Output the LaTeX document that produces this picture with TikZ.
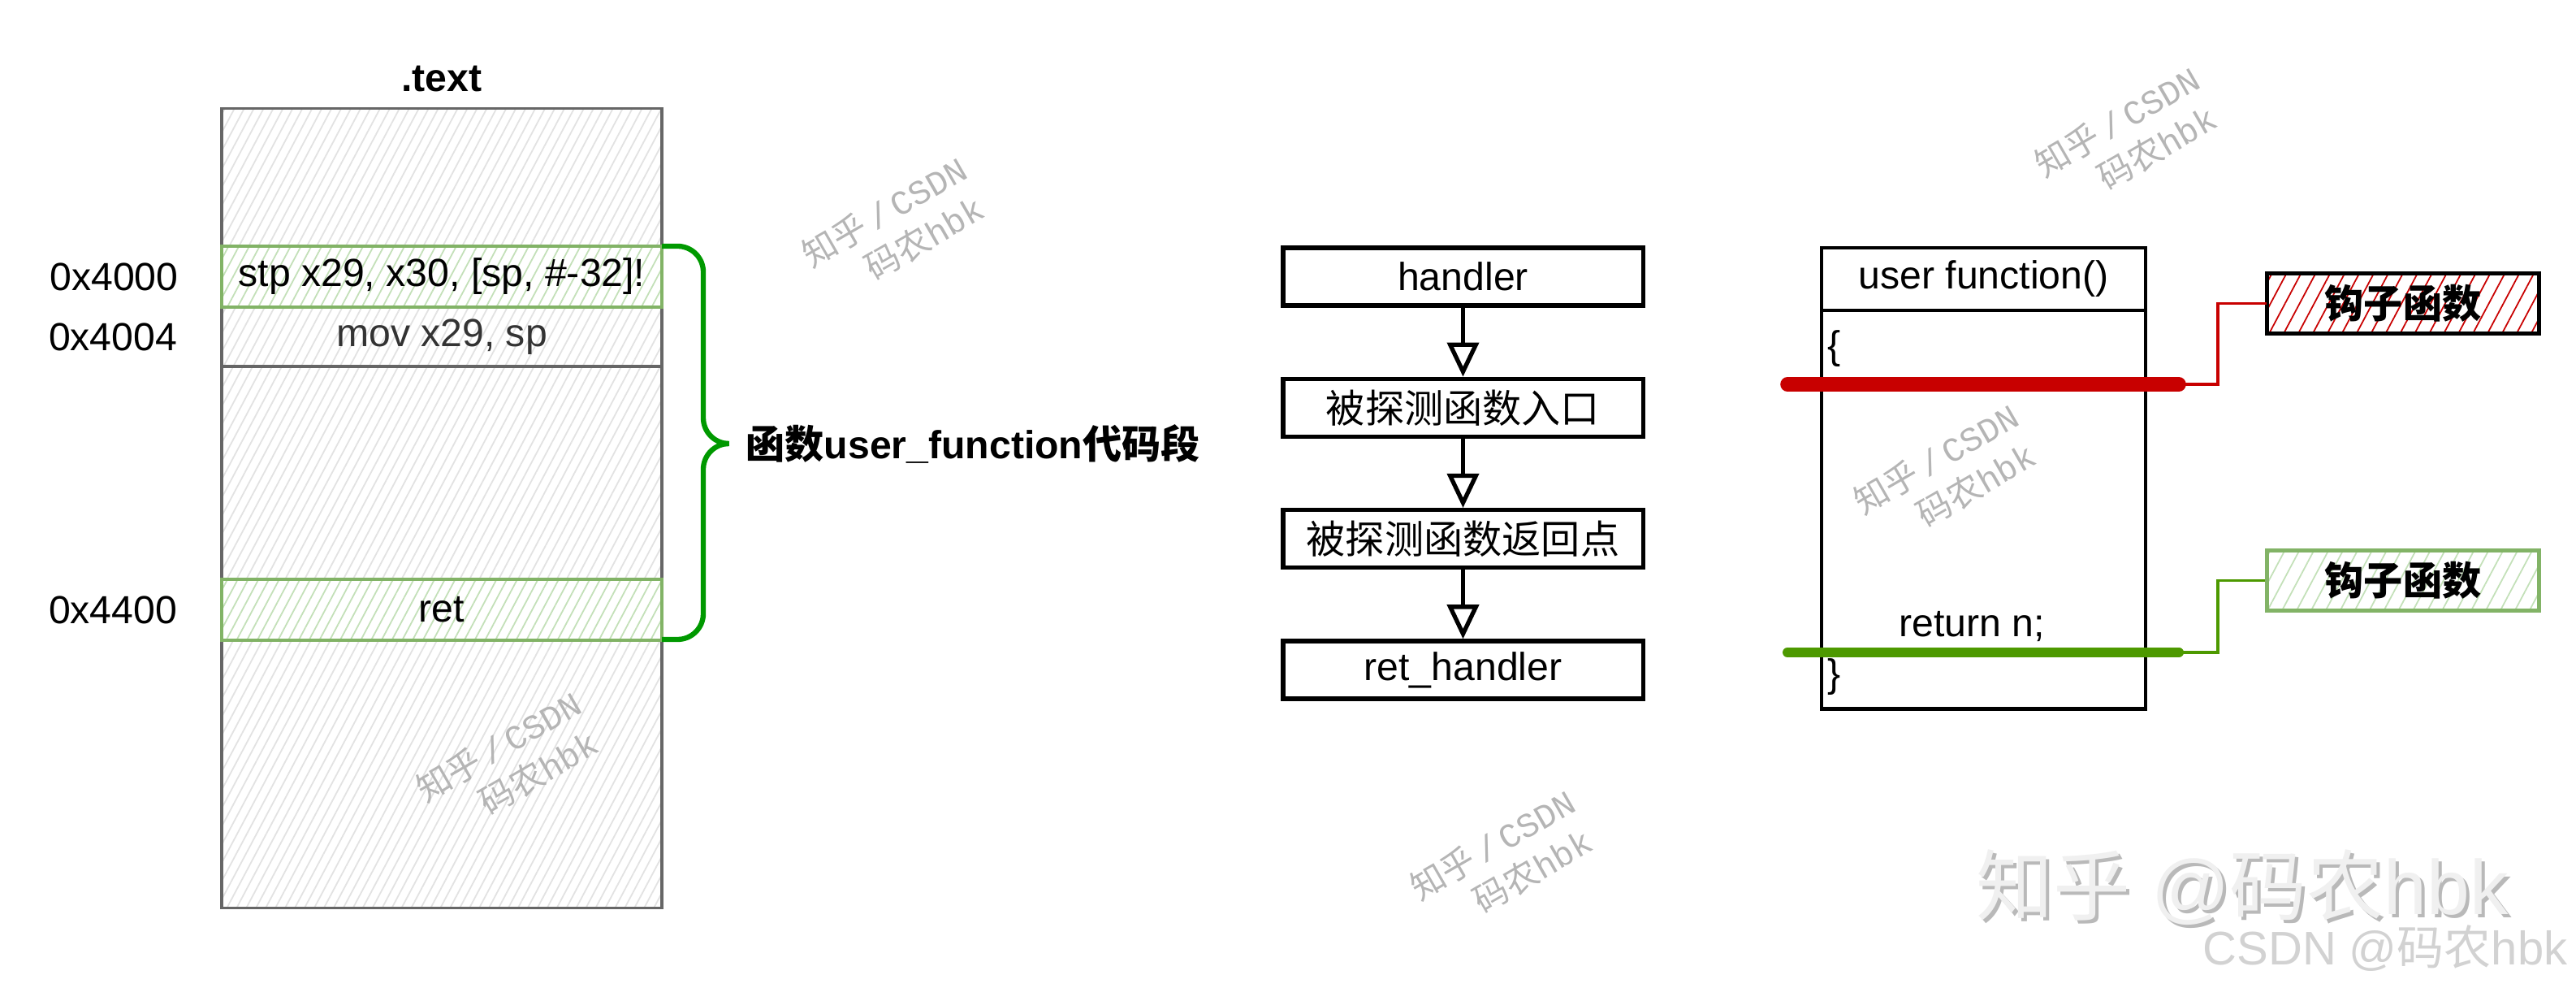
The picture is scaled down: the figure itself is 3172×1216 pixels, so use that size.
\documentclass[tikz,border=0pt]{standalone}
\usepackage{fontspec}
\setmainfont{Liberation Sans}
\newfontfamily\cjk{Noto Sans CJK SC}
\newfontfamily\wmmono{Liberation Mono}
\usetikzlibrary{positioning,arrows.meta,patterns.meta}

\definecolor{segborder}{HTML}{666666}
\definecolor{seghatch}{HTML}{E2E2E2}
\definecolor{greenborder}{HTML}{82B366}
\definecolor{greenhatch}{HTML}{C3E0B8}
\definecolor{bracegreen}{HTML}{009900}
\definecolor{hookred}{HTML}{C80000}
\definecolor{hookgreen}{HTML}{4D9900}
\definecolor{wmgray}{HTML}{B5B5B5}

\newcommand\diagfont{\fontsize{13.7}{16}\selectfont}
\newcommand\wmark[2]{\node[wm] (#1) at (#2) {{\cjk 知乎}\,{\wmmono/\,CSDN}\\\hspace*{1.4em}{\cjk 码农}{\wmmono hbk}};}

\tikzset{
  hatch/.style 2 args={pattern={Lines[angle=62,distance=#1,line width=0.5pt]},pattern color=#2},
  segbox/.style={draw=segborder,line width=1pt,preaction={fill=white},hatch={3pt}{seghatch}},
  greenrow/.style={draw=greenborder,line width=1.3pt,preaction={fill=white},hatch={3.2pt}{greenhatch},
    minimum width=5.42cm,minimum height=0.75cm,inner sep=0pt},
  grayrow/.style={draw=segborder,line width=1.3pt,preaction={fill=white},hatch={3pt}{seghatch},
    minimum width=5.42cm,minimum height=0.73cm,inner sep=0pt,text=black!80},
  flowbox/.style={draw,line width=1.5pt,minimum width=4.43cm,minimum height=0.71cm,inner sep=0pt},
  flowarrow/.style={line width=1.5pt,-{Triangle[open,length=12pt,width=11pt]}},
  ufbox/.style={draw,line width=1.3pt,minimum width=3.99cm,inner sep=0pt,outer sep=0pt},
  hookbox/.style={line width=1.4pt,minimum width=3.34cm,minimum height=0.74cm,inner sep=0pt,
    font=\diagfont\cjk\bfseries},
  probeline/.style={line cap=round,line width=#1},
  tap/.style={line width=0.9pt},
  wm/.style={text=wmgray,rotate=30,font=\fontsize{12}{15}\selectfont,align=left}
}

\begin{document}
\begin{tikzpicture}[x=0.01cm,y=-0.01cm,font=\diagfont]
\useasboundingbox (0,0) rectangle (3172,1216);

%====================================================
% .text segment
%====================================================
\node[segbox,minimum width=5.42cm,minimum height=9.83cm] (seg) at (544,625.5) {};
\node[font=\diagfont\bfseries] (segtitle) at (544,97) {.text};

\node[grayrow] (mov) at (544,414.5) {mov x29, sp};
\node[greenrow] (stp) at (544,340.5) {stp x29, x30, [sp, \#-32]!};
\node[greenrow] (ret) at (544,750.5) {ret};

% Addresses
\node[left=0.4cm of stp] (a4000) {0x4000};
\node[left=0.4cm of mov] (a4004) {0x4004};
\node[left=0.4cm of ret] (a4400) {0x4400};

% Brace
\draw[bracegreen,line width=1.8pt,rounded corners=9] (815,303) -| (866,546) -- (890,546);
\draw[bracegreen,line width=1.8pt,rounded corners=9] (890,546) -- (866,546) |- (815,787);
\node[anchor=west,font=\diagfont\bfseries] (seglabel) at (906,546) {{\cjk 函数}user\_function{\cjk 代码段}};

%====================================================
% Probe flow
%====================================================
\node[flowbox] (handler) at (1801.5,340.5) {handler};
\node[flowbox,below=0.85cm of handler] (entry) {\cjk 被探测函数入口};
\node[flowbox,below=0.85cm of entry] (retpoint) {\cjk 被探测函数返回点};
\node[flowbox,below=0.85cm of retpoint] (rethandler) {ret\_handler};

\draw[flowarrow] (handler) -- (entry);
\draw[flowarrow] (entry) -- (retpoint);
\draw[flowarrow] (retpoint) -- (rethandler);

%====================================================
% user function
%====================================================
\node[ufbox,minimum height=0.77cm] (ufhead) at (2442.5,343.5) {user function()};
\node[ufbox,minimum height=4.9cm,below=0pt of ufhead] (ufbody) {};
\node[anchor=west,inner sep=1pt] (lbrace) at (2246,429) {\{};
\node[anchor=west,inner sep=1pt] (rbrace) at (2246,833) {\}};
\node (retn) at (2428,771) {return n;};

% Entry hook
\coordinate (entrytap) at (2683,473);
\draw[probeline=5pt,hookred] (2201,473) -- (entrytap);
\node[hookbox,draw=black,hatch={4.5pt}{hookred}] (hookentry) at (2959,373.5) {钩子函数};
\draw[tap,hookred] (entrytap) -- ++(48,0) |- (hookentry.west);

% Return hook
\coordinate (rettap) at (2683,803);
\draw[probeline=3.4pt,hookgreen] (2201,803) -- (rettap);
\node[hookbox,draw=greenborder,hatch={4.5pt}{greenhatch}] (hookret) at (2959,714.5) {钩子函数};
\draw[tap,hookgreen] (rettap) -- ++(48,0) |- (hookret.west);

%====================================================
% Watermarks
%====================================================
\wmark{wmA}{1102,283}
\wmark{wmB}{2620,172}
\wmark{wmC}{2397,587}
\wmark{wmD}{627,941}
\wmark{wmE}{1851,1062}

\node[text=gray!55,font=\fontsize{27}{30}\selectfont] (zhihushadow) at (2765,1096) {{\cjk 知乎} @{\cjk 码农}hbk};
\node[text=gray!12,font=\fontsize{27}{30}\selectfont] (zhihu) at (2761,1092) {{\cjk 知乎} @{\cjk 码农}hbk};
\node[text=gray!35,font=\fontsize{16.5}{18}\selectfont] (csdn) at (2937,1167) {CSDN @{\cjk 码农}hbk};

\end{tikzpicture}
\end{document}
